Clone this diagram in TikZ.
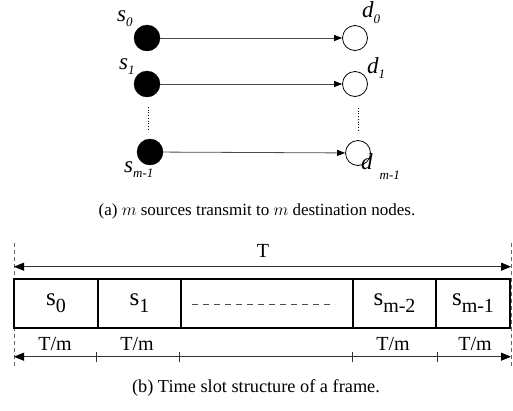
\documentclass[tikz,border=0pt]{standalone}
\usepackage{fontspec}
\setmainfont{Liberation Serif}
\usetikzlibrary{arrows.meta}
\newcommand\toplab[3]{{\fontsize{23}{23}\selectfont\itshape #1}{\fontsize{13}{13}\selectfont\itshape\raisebox{-#3pt}{#2}}}
\newcommand\boxlab[1]{{\fontsize{25}{25}\selectfont s}{\fontsize{20}{20}\selectfont\raisebox{-7pt}{#1}}}
\begin{document}
\begin{tikzpicture}[x=1pt,y=-1pt,
  srcnode/.style={circle,fill=black,draw=black,minimum size=26pt,inner sep=0pt},
  dstnode/.style={circle,draw=black,fill=white,minimum size=25pt,inner sep=0pt,line width=0.8pt},
  linkarrow/.style={draw=black!70,line width=0.8pt,-{Triangle[length=8pt,width=6pt,color=black]}},
  vdotline/.style={draw=black,line width=0.7pt,dotted},
  toplabel/.style={inner sep=0pt,anchor=base west},
  slotbox/.style={draw=black,line width=1.3pt,minimum height=49pt,inner sep=0pt},
  spanarrow/.style={draw=black!80,line width=0.8pt,{Triangle[length=10pt,width=8pt,color=black]}-{Triangle[length=10pt,width=8pt,color=black]}},
  guideline/.style={draw=black!60,line width=0.6pt,dash pattern=on 4pt off 3pt},
  tickmark/.style={draw=black!80,line width=0.8pt},
  smalltxt/.style={inner sep=0pt,font=\fontsize{20}{20}\selectfont},
  captxt/.style={inner sep=0pt}
]
\useasboundingbox (0,0) rectangle (513,410);
% top part
\node[srcnode] (s0) at (147,38) {};
\node[srcnode] (s1) at (147,84) {};
\node[srcnode] (sm) at (150,152) {};
\node[dstnode] (d0) at (355,38) {};
\node[dstnode] (d1) at (355,84) {};
\node[dstnode] (dm) at (358,153) {};
\draw[linkarrow] (s0) -- (d0);
\draw[linkarrow] (s1) -- (d1);
\draw[linkarrow] (sm) -- (dm);
\draw[vdotline] (148,107) -- (148,130);
\draw[vdotline] (358,108) -- (358,131);
\node[toplabel] (ls0) at (117,21) {\toplab{s}{0}{5}};
\node[toplabel] (ls1) at (119,69) {\toplab{s}{1}{5}};
\node[toplabel] (lsm) at (124,172) {\toplab{s}{m-1}{5}};
\node[toplabel] (ld0) at (362,17) {\toplab{d}{0}{6}};
\node[toplabel] (ld1) at (367,73) {\toplab{d}{1}{5}};
\node[toplabel] (ldm) at (361,169) {\toplab{d}{\hspace{7pt}m-1}{10}};
\node[captxt,font=\fontsize{17}{17}\selectfont] (capa) at (257,211) {(a) $m$ sources transmit to $m$ destination nodes.};
% bottom part
\coordinate (gl1) at (14,243);
\coordinate (gl2) at (14,368);
\coordinate (gr1) at (511,243);
\coordinate (gr2) at (511,368);
\draw[guideline] (gl1) -- (gl2);
\draw[guideline] (gr1) -- (gr2);
\coordinate (tl) at (14,266.7);
\coordinate (tr) at (511,266.7);
\draw[spanarrow] (tl) -- (tr);
\node[smalltxt] (tT) at (263,251) {T};
\node[slotbox,minimum width=84pt] (b0) at (56,303.5) {\boxlab{0}};
\node[slotbox,minimum width=83pt] (b1) at (139.5,303.5) {\boxlab{1}};
\node[slotbox,minimum width=172pt] (bg) at (267,303.5) {};
\node[slotbox,minimum width=83pt] (b2) at (394.5,303.5) {\boxlab{m-2}};
\node[slotbox,minimum width=74pt] (b3) at (473,303.5) {\boxlab{m-1}};
\draw[guideline,draw=black!70,dash pattern=on 6pt off 5pt] (192,304) -- (335,304);
\coordinate (ll) at (14,356.7);
\coordinate (lr) at (511,356.7);
\draw[spanarrow] (ll) -- (lr);
\foreach \x in {96,179,352,437} \draw[tickmark] (\x,352) -- (\x,362);
\node[smalltxt] (t1) at (55,344) {T/m};
\node[smalltxt] (t2) at (137,344) {T/m};
\node[smalltxt] (t3) at (393,344) {T/m};
\node[smalltxt] (t4) at (475,344) {T/m};
\node[captxt,font=\fontsize{18.3}{18.3}\selectfont] (capb) at (256,388) {(b) Time slot structure of a frame.};
\end{tikzpicture}
\end{document}
